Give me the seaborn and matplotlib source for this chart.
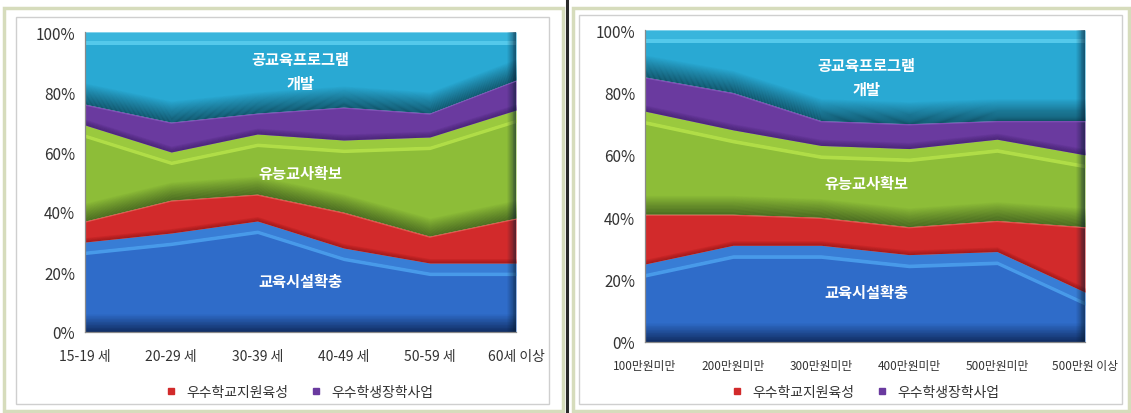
import numpy as np
import matplotlib
matplotlib.use("Agg")
import matplotlib.pyplot as plt
import seaborn as sns
from matplotlib.patches import Rectangle
from matplotlib.lines import Line2D

# ---- data (shares in %, bottom to top) ----
age_groups = ["15-19 세", "20-29 세", "30-39 세", "40-49 세", "50-59 세", "60세 이상"]
age_facility = [30, 33, 37, 28, 23, 23]      # 교육시설확충
age_school = [7, 11, 9, 12, 9, 15]           # 우수학교지원육성
age_teacher = [32, 16, 20, 24, 33, 36]       # 유능교사확보
age_scholar = [7, 10, 7, 11, 8, 10]          # 우수학생장학사업
age_program = [24, 30, 27, 25, 27, 16]       # 공교육프로그램 개발

income_groups = ["100만원미만", "200만원미만", "300만원미만", "400만원미만", "500만원미만", "500만원 이상"]
inc_facility = [25, 31, 31, 28, 29, 16]
inc_school = [16, 10, 9, 9, 10, 21]
inc_teacher = [33, 27, 23, 25, 26, 23]
inc_scholar = [11, 12, 8, 8, 6, 11]
inc_program = [15, 20, 29, 30, 29, 29]

series_names = ["교육시설확충", "우수학교지원육성", "유능교사확보", "우수학생장학사업", "공교육프로그램\n개발"]
legend_names = ["우수학교지원육성", "우수학생장학사업"]
y_ticks = [0, 20, 40, 60, 80, 100]
y_tick_labels = ["0%", "20%", "40%", "60%", "80%", "100%"]

sns.set_theme(style="white")
plt.rcParams["font.family"] = ["Noto Sans CJK KR", "DejaVu Sans"]

# base, shadow, highlight colours per series
styles = [
    dict(base="#2f6cc9", dark="#0c2352", light="#4fa6f2", shadow=6, hl=True),
    dict(base="#d22a2b", dark="#8a1416", light="#e86a5e", shadow=1.5, hl=False),
    dict(base="#8dbd38", dark="#34501a", light="#b9e64c", shadow=6, hl=True),
    dict(base="#6a3a9f", dark="#3c1d66", light="#8a5cc0", shadow=2, hl=False),
    dict(base="#29a9d3", dark="#0b3f4f", light="#5fd2f2", shadow=7, hl=True),
]

W, H = 1131, 414
fig = plt.figure(figsize=(W / 100, H / 100), dpi=100)
fig.patch.set_facecolor("white")


def px_rect(x0, y0, x1, y1, **kw):
    """Rectangle in pixel coordinates (origin top-left)."""
    fig.patches.append(Rectangle((x0 / W, 1 - y1 / H), (x1 - x0) / W, (y1 - y0) / H,
                                 transform=fig.transFigure, fill=False, **kw))


# panel frames and divider
px_rect(4, 9, 563, 412, edgecolor="#d6dcbc", lw=2.5)
px_rect(16, 18, 549, 405, edgecolor="#cfcfcf", lw=1.0)
px_rect(573, 9, 1129, 412, edgecolor="#d6dcbc", lw=2.5)
px_rect(579, 16, 1122, 405, edgecolor="#cfcfcf", lw=1.0)
fig.lines.append(Line2D([567 / W, 567 / W], [0, 1], transform=fig.transFigure,
                        color="#2a2a2a", lw=2.2))


def draw_panel(ax, cats, layers, label_pos):
    x = np.arange(len(cats))
    cum = np.vstack([np.zeros(len(cats)), np.cumsum(np.array(layers, float), axis=0)])
    for i, st in enumerate(styles):
        lo, hi = cum[i], cum[i + 1]
        ax.fill_between(x, lo, hi, color=st["base"], lw=0)
        # shadowed lower part of the ribbon
        n = 24
        for k in range(n):
            a0 = lo + st["shadow"] * k / n
            a1 = lo + st["shadow"] * (k + 1) / n
            ax.fill_between(x, np.minimum(a0, hi), np.minimum(a1, hi),
                            color=st["dark"], alpha=0.85 * (1 - k / n), lw=0)
        # bevelled top face
        if st["hl"]:
            ax.fill_between(x, np.maximum(hi - 3.0, lo), hi, color=st["light"], alpha=0.3, lw=0)
            ax.fill_between(x, np.maximum(hi - 4.2, lo), np.maximum(hi - 3.0, lo),
                            color=st["light"], alpha=0.8, lw=0)
        else:
            sns.lineplot(x=x, y=hi - 0.4, ax=ax, color=st["light"], lw=0.8, alpha=0.7)
    # dark right side of the 3D block
    n = 10
    x1 = len(cats) - 1
    for k in range(n):
        ax.axvspan(x1 - 0.1 * (n - k) / n, x1 - 0.1 * (n - k - 1) / n,
                   color="#061a2e", alpha=0.04 + 0.06 * k, lw=0)
    ax.set_xlim(0, len(cats) - 1)
    ax.set_ylim(0, 100)
    ax.set_xticks(x)
    ax.set_xticklabels(cats, fontsize=label_pos["xfs"], color="#333333")
    ax.set_yticks(y_ticks)
    ax.set_yticklabels(y_tick_labels, fontsize=11, color="#333333")
    ax.tick_params(axis="x", direction="out", length=4, width=0.8, color="#808080", pad=8)
    ax.tick_params(axis="y", direction="out", length=3, width=0.8, color="#808080", pad=4)
    for s in ["top", "right"]:
        ax.spines[s].set_visible(False)
    for s in ["left", "bottom"]:
        ax.spines[s].set_color("#8a8a8a")
        ax.spines[s].set_linewidth(0.9)
    ax.set_xlabel("")
    ax.set_ylabel("")
    for name, (tx, ty) in zip([series_names[0], series_names[2], series_names[4]],
                              label_pos["texts"]):
        ax.text(tx, ty, name, color="white", fontsize=11, fontweight="bold",
                ha="center", va="center", linespacing=1.6)


axL = fig.add_axes([85 / W, 1 - 333 / H, 431 / W, 300 / H])
draw_panel(axL, age_groups,
           [age_facility, age_school, age_teacher, age_scholar, age_program],
           dict(xfs=10, texts=[(2.5, 17), (2.5, 53), (2.5, 87)]))

axR = fig.add_axes([645 / W, 1 - 343 / H, 440 / W, 312 / H])
draw_panel(axR, income_groups,
           [inc_facility, inc_school, inc_teacher, inc_scholar, inc_program],
           dict(xfs=8.5, texts=[(2.52, 16), (2.52, 51), (2.52, 85)]))

handles = [Line2D([], [], marker="s", ls="", markersize=5, color=styles[1]["base"]),
           Line2D([], [], marker="s", ls="", markersize=5, color=styles[3]["base"])]
for cx in (295 / W, 861 / W):
    fig.legend(handles, legend_names, loc="center", bbox_to_anchor=(cx, 1 - 393 / H),
               ncol=2, frameon=False, fontsize=10, handletextpad=0.1, columnspacing=1.0,
               labelcolor="#333333")

fig.savefig("out.png", dpi=100, facecolor="white")
